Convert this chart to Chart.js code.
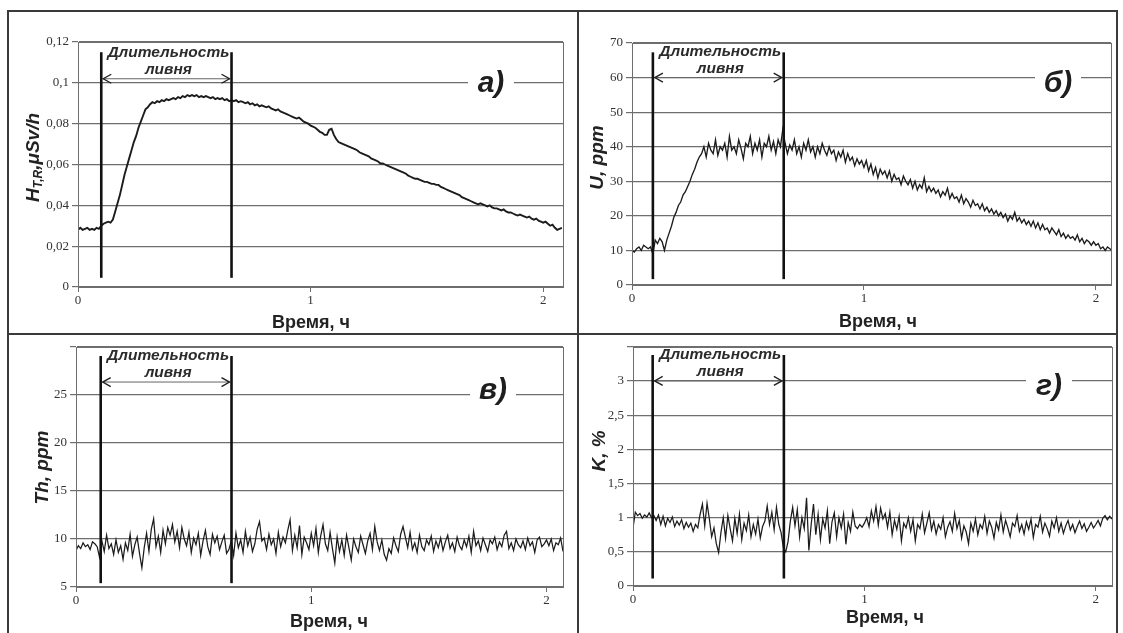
<!DOCTYPE html>
<html lang="ru">
<head>
<meta charset="utf-8">
<title>Ливень: мощность дозы, U, Th, K</title>
<script src="https://cdn.jsdelivr.net/npm/chart.js@4.4.1/dist/chart.umd.min.js"></script>
<style>
  html, body { margin: 0; padding: 0; background: #fff; }
  #page { position: relative; width: 1123px; height: 633px; overflow: hidden; }
  .rule { position: absolute; background: #3a3a3a; }
  canvas { position: absolute; }
</style>
</head>
<body>
<div id="page">
  <div class="rule" style="left:7px;top:10px;width:1111px;height:2px"></div>
  <div class="rule" style="left:7px;top:10px;width:2px;height:630px"></div>
  <div class="rule" style="left:1116px;top:10px;width:2px;height:630px"></div>
  <div class="rule" style="left:577px;top:10px;width:2px;height:630px"></div>
  <div class="rule" style="left:7px;top:333px;width:1111px;height:2px"></div>
  <canvas id="panelA" width="567" height="320" style="left:10px;top:13px"></canvas>
  <canvas id="panelB" width="537" height="320" style="left:580px;top:13px"></canvas>
  <canvas id="panelC" width="567" height="297" style="left:10px;top:336px"></canvas>
  <canvas id="panelD" width="537" height="297" style="left:580px;top:336px"></canvas>
</div>
<script>
"use strict";

// время, ч
const timeH = [
  0,0.01,0.02,0.03,0.04,0.05,0.06,0.07,0.08,0.09,
  0.10,0.11,0.12,0.13,0.14,0.15,0.16,0.17,0.18,0.19,
  0.20,0.21,0.22,0.23,0.24,0.25,0.26,0.27,0.28,0.29,
  0.30,0.31,0.32,0.33,0.34,0.35,0.36,0.37,0.38,0.39,
  0.40,0.41,0.42,0.43,0.44,0.45,0.46,0.47,0.48,0.49,
  0.50,0.51,0.52,0.53,0.54,0.55,0.56,0.57,0.58,0.59,
  0.60,0.61,0.62,0.63,0.64,0.65,0.66,0.67,0.68,0.69,
  0.70,0.71,0.72,0.73,0.74,0.75,0.76,0.77,0.78,0.79,
  0.80,0.81,0.82,0.83,0.84,0.85,0.86,0.87,0.88,0.89,
  0.90,0.91,0.92,0.93,0.94,0.95,0.96,0.97,0.98,0.99,
  1.00,1.01,1.02,1.03,1.04,1.05,1.06,1.07,1.08,1.09,
  1.10,1.11,1.12,1.13,1.14,1.15,1.16,1.17,1.18,1.19,
  1.20,1.21,1.22,1.23,1.24,1.25,1.26,1.27,1.28,1.29,
  1.30,1.31,1.32,1.33,1.34,1.35,1.36,1.37,1.38,1.39,
  1.40,1.41,1.42,1.43,1.44,1.45,1.46,1.47,1.48,1.49,
  1.50,1.51,1.52,1.53,1.54,1.55,1.56,1.57,1.58,1.59,
  1.60,1.61,1.62,1.63,1.64,1.65,1.66,1.67,1.68,1.69,
  1.70,1.71,1.72,1.73,1.74,1.75,1.76,1.77,1.78,1.79,
  1.80,1.81,1.82,1.83,1.84,1.85,1.86,1.87,1.88,1.89,
  1.90,1.91,1.92,1.93,1.94,1.95,1.96,1.97,1.98,1.99,
  2.00,2.01,2.02,2.03,2.04,2.05,2.06,2.07,2.08
];

// а) мощность дозы H*, мкЗв/ч
const doseRate = [
  0.028,0.029,0.028,0.0285,0.029,0.028,0.0285,0.028,0.029,0.0285,
  0.030,0.031,0.0315,0.032,0.0315,0.033,0.037,0.041,0.045,0.050,
  0.055,0.059,0.063,0.067,0.071,0.074,0.078,0.081,0.084,0.087,
  0.088,0.0895,0.0905,0.090,0.091,0.0905,0.0915,0.091,0.092,0.0915,
  0.092,0.0925,0.092,0.093,0.0925,0.0935,0.093,0.094,0.0935,0.094,
  0.0935,0.094,0.093,0.0935,0.093,0.0935,0.093,0.0925,0.093,0.092,
  0.0925,0.092,0.0925,0.0915,0.092,0.091,0.0915,0.091,0.0915,0.0905,
  0.091,0.0905,0.090,0.0905,0.0895,0.090,0.089,0.0895,0.0885,0.089,
  0.0885,0.088,0.0885,0.0875,0.087,0.0865,0.087,0.086,0.0855,0.085,
  0.0845,0.084,0.0835,0.083,0.0825,0.083,0.082,0.081,0.0805,0.080,
  0.079,0.0785,0.078,0.077,0.076,0.0755,0.0745,0.0745,0.077,0.0775,
  0.0745,0.0725,0.071,0.0705,0.070,0.0695,0.069,0.0685,0.068,0.0675,
  0.067,0.066,0.0655,0.065,0.0645,0.064,0.063,0.0625,0.062,0.0615,
  0.0605,0.0605,0.060,0.0595,0.059,0.0585,0.058,0.0575,0.057,0.0565,
  0.056,0.0555,0.0545,0.054,0.0535,0.053,0.053,0.0525,0.052,0.0515,
  0.0515,0.051,0.0505,0.0505,0.050,0.050,0.049,0.0485,0.048,0.0475,
  0.047,0.0465,0.046,0.0455,0.045,0.044,0.0435,0.043,0.0425,0.042,
  0.0415,0.041,0.0405,0.041,0.0405,0.040,0.0395,0.040,0.039,0.0385,
  0.0385,0.038,0.0375,0.038,0.037,0.0365,0.0365,0.036,0.0355,0.035,
  0.0355,0.035,0.0345,0.034,0.0345,0.0335,0.033,0.0335,0.0325,0.032,
  0.0315,0.032,0.031,0.030,0.0305,0.029,0.028,0.0285,0.029
];

// б) уран, ppm
const uranium = [
  10,9.5,10.5,11,10,11.5,11,10.5,11,9,
  13,12,13.5,12.5,10,13,15,17,19.5,21,
  23,24,26,27,28.5,30,32,33.5,35.5,37,
  38,40,37,41,39,38,42,37.5,40,39,
  41,37,43,39,40,38,42,39.5,36.5,41,
  40,43,38,41,39,42,37,41,40,43,
  39,41.5,38,42,40,45,41,38,40.5,39,
  42,38,40,37,41,39,42,38.5,40,37,
  40,38,41,39,37.5,40,38,39,36,38.5,
  37,39,35.5,38,36,37,34.5,36.5,35,36,
  34,36,33,35,32,34,31,33.5,32,33,
  31,33,30,32,30.5,31,29,31.5,30,29,
  30.5,28,30,27.5,29,28,31,27,28.5,27,
  28,26.5,27.5,25.5,27,26,28,25,26.5,25,
  25.5,24,26,23.5,25,24,22.5,24.5,23,23.5,
  22,23.5,21.5,22.5,21,22,20.5,21.5,20,21,
  19.5,20.5,18.5,20,19,21,18.5,19.5,18,19,
  17.5,18.5,17,18.5,16.5,18,16,17.5,16,16.5,
  15,16.5,15.5,14.5,16,14,15,13.5,14.5,13.5,
  14,13,14.5,12.5,13.5,12,13,12.5,11.5,12.5,
  11.5,12,10.5,11,10,11,10.5,10,10.5
];

// в) торий, ppm
const thorium = [
  8.8,9.3,9.0,9.6,9.2,9.4,8.9,9.7,9.5,9.2,
  8.1,9.8,8.7,10.4,9.0,9.5,8.4,9.9,8.6,9.3,
  7.9,9.6,8.8,10.5,8.2,9.4,10.2,8.5,7.0,9.1,
  10.6,8.7,11.0,12.1,9.2,10.3,8.6,10.9,9.5,11.2,
  10.4,11.5,9.7,10.8,9.1,11.2,10.0,9.3,10.7,8.6,
  10.1,9.4,10.6,8.3,9.8,10.9,9.2,8.4,10.5,9.6,
  10.3,8.9,9.7,10.4,8.5,8.9,9.8,8.3,10.6,9.1,
  9.9,8.6,10.8,9.3,10.2,8.7,9.5,11.0,11.8,9.8,
  10.1,8.9,10.5,9.4,10.0,8.5,10.7,9.2,10.2,9.6,
  10.9,12.0,8.8,10.4,9.1,11.4,8.4,10.2,9.6,8.9,
  10.6,9.3,11.1,8.6,10.3,11.5,9.5,8.8,10.7,9.0,
  7.5,10.2,8.7,9.9,8.3,10.4,9.1,7.8,10.0,9.2,
  8.6,10.3,9.4,8.5,9.8,10.6,8.9,11.3,9.7,8.8,
  9.9,8.4,7.8,9.0,8.5,10.1,9.3,8.7,10.5,11.3,
  10.2,9.1,10.7,8.9,9.6,8.6,10.4,9.2,8.8,9.9,
  9.4,10.3,8.7,9.8,9.1,10.1,8.8,9.7,10.4,9.0,
  9.6,8.7,10.2,9.3,8.9,9.9,9.2,10.3,8.6,10.8,
  9.3,9.8,8.8,10.1,9.4,8.7,9.9,9.5,10.2,8.9,
  9.7,9.2,10.4,10.8,9.0,9.6,8.8,10.0,9.4,9.1,
  9.8,8.9,10.1,9.3,9.7,8.6,9.9,10.2,9.2,9.5,
  9.9,9.3,10.0,8.8,9.6,9.4,10.1,8.7,9.6
];

// г) калий, %
const potassium = [
  0.85,1.08,1.03,1.06,0.99,1.04,1.01,1.07,1.0,1.03,
  0.96,1.04,0.9,1.02,0.88,0.99,0.93,1.01,0.87,0.95,
  0.89,0.97,0.84,0.93,0.86,0.92,0.8,0.9,0.85,1.05,
  1.2,0.88,1.21,0.98,0.72,0.85,0.62,0.49,0.78,1.0,
  0.7,1.03,0.84,0.66,0.99,0.77,1.05,0.68,0.92,0.81,
  1.04,0.72,0.9,0.76,0.98,0.7,0.87,0.95,1.17,0.9,
  1.08,0.82,1.15,0.9,0.78,0.56,0.5,0.65,0.95,1.15,
  0.88,1.12,0.72,1.0,0.84,1.29,0.52,0.9,1.2,0.75,
  1.05,0.68,0.98,0.85,1.1,0.62,0.94,1.07,0.72,1.0,
  0.85,1.05,0.61,0.93,0.8,1.08,0.88,0.84,0.9,0.86,
  0.92,1.0,0.87,1.1,0.95,1.16,0.89,1.14,0.98,1.06,
  0.86,1.08,0.75,0.96,0.83,1.02,0.66,0.92,0.85,1.0,
  0.8,0.97,0.66,0.9,0.84,1.05,0.78,0.92,1.07,0.82,
  0.95,0.76,0.9,0.83,1.0,0.72,0.86,0.94,0.8,1.06,
  0.84,0.96,0.7,0.88,0.79,0.62,0.92,0.8,0.98,0.75,
  0.9,0.84,1.02,0.77,0.95,0.86,0.7,0.93,0.82,1.04,
  0.79,0.96,0.85,0.72,0.92,0.87,1.03,0.8,0.9,0.76,
  0.94,0.83,0.98,0.71,0.9,0.86,1.02,0.79,0.92,0.84,
  0.73,0.95,0.85,1.0,0.8,0.92,0.77,0.88,0.96,0.82,
  0.9,0.78,0.87,0.95,0.84,0.91,0.8,0.86,0.93,0.85,
  0.9,0.96,0.88,0.99,1.03,0.97,1.02,0.98,1.01
];

// начало и конец ливня (ч), как отмечено на каждой панели
const rainStart = [0.10, 0.09, 0.105, 0.085];
const rainEnd   = [0.66, 0.654, 0.661, 0.652];

const serif = '"Liberation Serif", "Times New Roman", serif';
const sans  = '"Liberation Sans", Arial, sans-serif';
const comma = v => String(Math.round(v * 1000) / 1000).replace(".", ",");

const decor = {
  id: "decor",
  afterDatasetsDraw(chart, args, o) {
    const { ctx, scales: { x, y } } = chart;
    const x1 = x.getPixelForValue(o.rainStart), x2 = x.getPixelForValue(o.rainEnd);
    const ay = y.getPixelForValue(o.arrowAt);
    ctx.save();
    ctx.strokeStyle = "#666"; ctx.lineWidth = 1;
    ctx.beginPath(); ctx.moveTo(x1 + 2, ay); ctx.lineTo(x2 - 2, ay); ctx.stroke();
    ctx.strokeStyle = "#222"; ctx.lineWidth = 1.4;
    ctx.beginPath();
    ctx.moveTo(x1 + 10, ay - 4.5); ctx.lineTo(x1 + 2, ay); ctx.lineTo(x1 + 10, ay + 4.5);
    ctx.moveTo(x2 - 10, ay - 4.5); ctx.lineTo(x2 - 2, ay); ctx.lineTo(x2 - 10, ay + 4.5);
    ctx.stroke();

    ctx.fillStyle = "#2b2b2b";
    ctx.font = "italic bold 15.5px " + sans;
    ctx.textAlign = "center"; ctx.textBaseline = "middle";
    const mx = (x1 + x2) / 2 + 2;
    ctx.fillText("Длительность", mx, ay - 26);
    ctx.fillText("ливня", mx, ay - 9);

    // буква панели поверх линии сетки
    const [lx, ly] = o.letterAt;
    ctx.fillStyle = "#fff";
    ctx.fillRect(lx - 23, ly - 16, 46, 32);
    ctx.fillStyle = "#1e1e1e";
    ctx.font = "italic bold 30px " + sans;
    ctx.fillText(o.letter, lx, ly);
    ctx.restore();
  },
  afterDraw(chart, args, o) {
    const { ctx, chartArea: a } = chart;
    ctx.save();
    ctx.strokeStyle = "#6e6e6e"; ctx.lineWidth = 1;
    ctx.strokeRect(Math.round(a.left) + 0.5, Math.round(a.top) + 0.5,
                   Math.round(a.right - a.left), Math.round(a.bottom - a.top));

    ctx.fillStyle = "#222";
    ctx.textBaseline = "middle";
    ctx.font = "bold 18px " + sans;
    ctx.textAlign = "center";
    ctx.fillText("Время, ч", o.xTitleAt[0], o.xTitleAt[1]);

    // подпись оси Y, повернутая; части с нижним индексом
    ctx.translate(o.yTitleAt[0], o.yTitleAt[1]);
    ctx.rotate(-Math.PI / 2);
    ctx.textAlign = "left";
    ctx.textBaseline = "alphabetic";
    const big = "italic bold 19px " + sans, small = "italic bold 12px " + sans;
    let w = 0;
    o.yTitle.forEach(p => { ctx.font = p.sub ? small : big; w += ctx.measureText(p.t).width; });
    let cx = -w / 2;
    o.yTitle.forEach(p => {
      ctx.font = p.sub ? small : big;
      ctx.fillText(p.t, cx, p.sub ? 10 : 7);
      cx += ctx.measureText(p.t).width;
    });
    ctx.restore();
  }
};

function rainLine(t, lo, hi) {
  return {
    data: [{ x: t, y: lo }, { x: t, y: hi }],
    borderColor: "#111", borderWidth: 2.6, pointRadius: 0
  };
}

function makePanel(id, p) {
  return new Chart(document.getElementById(id), {
    type: "line",
    data: {
      datasets: [
        rainLine(p.rainStart, p.lineLo, p.lineHi),
        rainLine(p.rainEnd, p.lineLo, p.lineHi),
        {
          data: timeH.map((t, i) => ({ x: t, y: p.values[i] })),
          borderColor: "#1c1c1c", borderWidth: p.lineW, pointRadius: 0, tension: 0
        }
      ]
    },
    options: {
      responsive: false,
      animation: false,
      events: [],
      layout: { padding: { top: p.pad[0], right: p.pad[1], bottom: 0, left: 0 } },
      plugins: {
        legend: { display: false },
        tooltip: { enabled: false },
        decor: {
          rainStart: p.rainStart, rainEnd: p.rainEnd, arrowAt: p.arrowAt,
          letter: p.letter, letterAt: p.letterAt,
          xTitleAt: p.xTitleAt, yTitleAt: p.yTitleAt, yTitle: p.yTitle
        }
      },
      scales: {
        x: {
          type: "linear", min: 0, max: p.xMax,
          afterFit: s => { s.height = p.xAxisH; },
          border: { color: "#6e6e6e" },
          grid: { drawOnChartArea: false, tickLength: 5, color: "#6e6e6e" },
          ticks: { stepSize: 1, includeBounds: false, padding: 1, color: "#333", font: { family: serif, size: 13 } }
        },
        y: {
          min: p.yMin, max: p.yMax,
          afterFit: s => { s.width = p.yAxisW; },
          border: { color: "#6e6e6e" },
          grid: { color: "#6e6e6e", lineWidth: 1.2, tickLength: 6 },
          ticks: {
            stepSize: p.yStep, padding: 3, color: "#333", font: { family: serif, size: 13 },
            callback: v => (p.hideTop && Math.abs(v - p.yMax) < 1e-9) ? "" : comma(v)
          }
        }
      }
    },
    plugins: [decor]
  });
}

makePanel("panelA", {
  values: doseRate, rainStart: rainStart[0], rainEnd: rainEnd[0],
  lineLo: 0.0045, lineHi: 0.115, arrowAt: 0.102, lineW: 1.9,
  xMax: 2.085, yMin: 0, yMax: 0.12, yStep: 0.02,
  pad: [29, 14], yAxisW: 68, xAxisH: 46,
  letter: "а)", letterAt: [481, 70.5], xTitleAt: [301, 310], yTitleAt: [22, 144.5],
  yTitle: [{ t: "H" }, { t: "T,R", sub: true }, { t: ",μSv/h" }]
});

makePanel("panelB", {
  values: uranium, rainStart: rainStart[1], rainEnd: rainEnd[1],
  lineLo: 1.7, lineHi: 67.3, arrowAt: 60, lineW: 1.35,
  xMax: 2.065, yMin: 0, yMax: 70, yStep: 10,
  pad: [30, 6], yAxisW: 52, xAxisH: 48,
  letter: "б)", letterAt: [478, 70.5], xTitleAt: [298, 309], yTitleAt: [16, 144.5],
  yTitle: [{ t: "U, ppm" }]
});

makePanel("panelC", {
  values: thorium, rainStart: rainStart[2], rainEnd: rainEnd[2],
  lineLo: 5.4, lineHi: 29.06, arrowAt: 26.35, lineW: 1.25,
  xMax: 2.07, yMin: 5, yMax: 30, yStep: 5, hideTop: true,
  pad: [11, 14], yAxisW: 66, xAxisH: 46,
  letter: "в)", letterAt: [483, 55], xTitleAt: [319, 286], yTitleAt: [31, 131.5],
  yTitle: [{ t: "Th, ppm" }]
});

makePanel("panelD", {
  values: potassium, rainStart: rainStart[3], rainEnd: rainEnd[3],
  lineLo: 0.11, lineHi: 3.38, arrowAt: 3, lineW: 1.25,
  xMax: 2.07, yMin: 0, yMax: 3.5, yStep: 0.5, hideTop: true,
  pad: [9, 5], yAxisW: 53, xAxisH: 47,
  letter: "г)", letterAt: [469, 51], xTitleAt: [305, 282], yTitleAt: [18, 115],
  yTitle: [{ t: "K, %" }]
});
</script>
</body>
</html>
